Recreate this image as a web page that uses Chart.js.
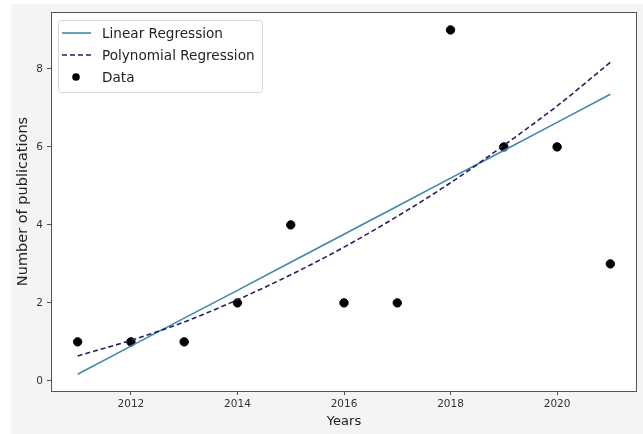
<!DOCTYPE html>
<html>
<head>
<meta charset="utf-8">
<script src="https://cdn.jsdelivr.net/npm/chart.js@4/dist/chart.umd.min.js"></script>
<style>
html,body{margin:0;padding:0;background:#fff;}
#wrap{width:643px;height:434px;position:relative;}
canvas{display:block;}
</style>
</head>
<body>
<div id="wrap"><canvas id="c" width="643" height="434"></canvas></div>
<script>
// Data
const years = [2011, 2012, 2013, 2014, 2015, 2016, 2017, 2018, 2019, 2020, 2021];
const publications = [1, 1, 1, 2, 4, 2, 2, 9, 6, 6, 3];
const linearFit = [0.17, 0.89, 1.61, 2.32, 3.04, 3.76, 4.48, 5.20, 5.91, 6.63, 7.35];
const polyFit = [0.64, 1.04, 1.51, 2.08, 2.72, 3.43, 4.22, 5.08, 6.04, 7.05, 8.17];
const xTicks = [2012, 2014, 2016, 2018, 2020];
const yTicks = [0, 2, 4, 6, 8];

const FONT = "'DejaVu Sans', sans-serif";
const toXY = (vals) => years.map((x, i) => ({x: x, y: vals[i]}));

const bgPlugin = {
  id: 'bg',
  beforeDraw(chart) {
    const ctx = chart.ctx;
    ctx.save();
    ctx.fillStyle = '#ffffff';
    ctx.fillRect(0, 0, chart.width, chart.height);
    ctx.fillStyle = '#f4f4f4';
    ctx.fillRect(11, 4, chart.width - 11, chart.height - 4);
    const a = chart.chartArea;
    ctx.fillStyle = '#ffffff';
    ctx.fillRect(a.left, a.top, a.right - a.left, a.bottom - a.top);
    ctx.restore();
  },
  afterDraw(chart) {
    const ctx = chart.ctx;
    const a = chart.chartArea;
    ctx.save();
    ctx.strokeStyle = '#555555';
    ctx.lineWidth = 1;
    ctx.strokeRect(Math.round(a.left) + 0.5, Math.round(a.top) + 0.5,
      Math.round(a.right - a.left) - 1, Math.round(a.bottom - a.top));
    // legend
    const lx = 58, ly = 20, lw = 204, lh = 72;
    ctx.fillStyle = 'rgba(255,255,255,0.85)';
    ctx.strokeStyle = '#d6d6d6';
    ctx.lineWidth = 1;
    ctx.beginPath();
    if (ctx.roundRect) ctx.roundRect(lx + 0.5, ly + 0.5, lw, lh, 3); else ctx.rect(lx + 0.5, ly + 0.5, lw, lh);
    ctx.fill();
    ctx.stroke();
    const ds = chart.data.datasets;
    const rows = [33, 55, 77];
    ctx.font = "13.6px " + FONT;
    ctx.textBaseline = 'middle';
    ds.forEach((d, i) => {
      const y = rows[i];
      if (d.showLine === false) {
        ctx.fillStyle = d.backgroundColor;
        ctx.beginPath();
        ctx.arc(76, y, 3.8, 0, Math.PI * 2);
        ctx.fill();
      } else {
        ctx.strokeStyle = d.borderColor;
        ctx.lineWidth = d.borderWidth;
        ctx.setLineDash(d.borderDash || []);
        ctx.beginPath();
        ctx.moveTo(62, y);
        ctx.lineTo(91, y);
        ctx.stroke();
        ctx.setLineDash([]);
      }
      ctx.fillStyle = '#222222';
      ctx.fillText(d.label, 102, y + 1);
    });
    ctx.restore();
  }
};

new Chart(document.getElementById('c'), {
  type: 'scatter',
  data: {
    datasets: [
      {
        label: 'Linear Regression',
        data: toXY(linearFit),
        showLine: true,
        borderColor: '#3f88ad',
        backgroundColor: '#3f88ad',
        borderWidth: 1.6,
        pointRadius: 0,
        order: 2
      },
      {
        label: 'Polynomial Regression',
        data: toXY(polyFit),
        showLine: true,
        borderColor: '#271e66',
        backgroundColor: '#271e66',
        borderWidth: 1.6,
        borderDash: [5, 3],
        pointRadius: 0,
        cubicInterpolationMode: 'monotone',
        order: 1
      },
      {
        label: 'Data',
        data: toXY(publications),
        showLine: false,
        backgroundColor: '#000000',
        borderColor: '#000000',
        pointRadius: 4.2,
        pointHoverRadius: 4.2,
        order: 3
      }
    ]
  },
  options: {
    responsive: false,
    animation: false,
    devicePixelRatio: 1,
    layout: {padding: {top: 12, right: 6, left: 0, bottom: 0}},
    plugins: {legend: {display: false}, tooltip: {enabled: false}},
    scales: {
      x: {
        type: 'linear',
        min: 2010.5,
        max: 2021.5,
        afterBuildTicks(s) { s.ticks = xTicks.map(v => ({value: v})); },
        afterFit(s) { s.height = 43; },
        grid: {display: true, drawOnChartArea: false, drawTicks: true, tickLength: 4, color: '#555555'},
        border: {display: false},
        ticks: {color: '#333333', font: {family: FONT, size: 10.5}, padding: 3, maxRotation: 0,
          callback: v => String(v)},
        title: {display: true, text: 'Years', color: '#222222', font: {family: FONT, size: 13}, padding: {top: 0, bottom: 5}}
      },
      y: {
        type: 'linear',
        min: -0.26,
        max: 9.46,
        afterBuildTicks(s) { s.ticks = yTicks.map(v => ({value: v})); },
        afterFit(s) { s.width = 51; },
        grid: {display: true, drawOnChartArea: false, drawTicks: true, tickLength: 4, color: '#555555'},
        border: {display: false},
        ticks: {color: '#333333', font: {family: FONT, size: 10.5}, padding: 4,
          callback: v => String(v)},
        title: {display: true, text: 'Number of publications', color: '#222222', font: {family: FONT, size: 14.5}, padding: {top: 15, bottom: 0}}
      }
    }
  },
  plugins: [bgPlugin]
});
</script>
</body>
</html>
